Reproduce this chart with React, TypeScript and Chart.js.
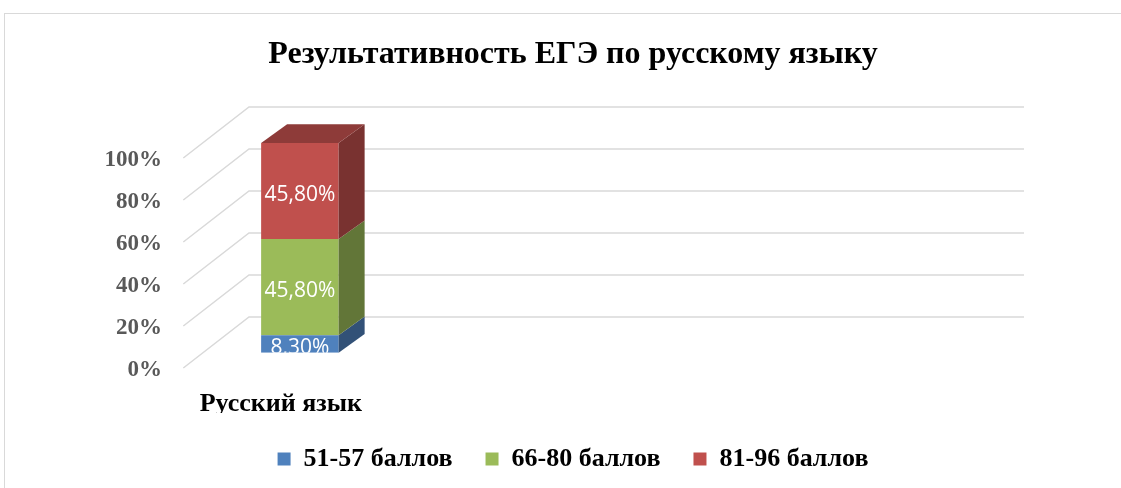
import React, { useEffect, useRef } from 'react';
import { Chart, registerables } from 'chart.js';

Chart.register(...registerables);

const titleText = 'Результативность ЕГЭ по русскому языку';
const categories = ['Русский язык', '', '', ''];
const seriesNames = ['51-57 баллов', '66-80 баллов', '81-96 баллов'];
const series1 = [8.3, null, null, null];
const series2 = [45.8, null, null, null];
const series3 = [45.8, null, null, null];
const yTicks = [0, 20, 40, 60, 80, 100];

const frontColors = ['#4f81bd', '#9bbb59', '#c0504d'];
const sideColors = ['#325177', '#627638', '#793230'];
const topColors = ['#3b6496', '#7a9446', '#8e3b39'];

const SERIF = '"Liberation Serif", "Times New Roman", serif';
const DEPTH_DX = 26;
const DEPTH_DY = -18.7;
const WALL_DX = 46;
const WALL_DY = -35.7;
const FLOOR_DX = -65.7;
const FLOOR_DY = 51;

const fmt = (v: number) => v.toFixed(2).replace('.', ',') + '%';

const threeD = {
  id: 'threeD',
  beforeDatasetsDraw(chart: any) {
    const { ctx, chartArea, scales } = chart;
    const y = scales.y;
    ctx.save();
    ctx.strokeStyle = '#d9d9d9';
    ctx.lineWidth = 1.5;
    yTicks.forEach((v) => {
      const py = y.getPixelForValue(v) + WALL_DY;
      const lx = chartArea.left + WALL_DX;
      const rx = chartArea.right + WALL_DX;
      ctx.beginPath();
      ctx.moveTo(lx + FLOOR_DX, py + FLOOR_DY);
      ctx.lineTo(lx, py);
      ctx.lineTo(rx, py);
      ctx.stroke();
    });
    ctx.restore();
  },
  afterDatasetsDraw(chart: any) {
    const { ctx, chartArea } = chart;
    const datasets = chart.data.datasets;
    ctx.save();
    datasets.forEach((ds: any, di: number) => {
      const meta = chart.getDatasetMeta(di);
      meta.data.forEach((el: any, i: number) => {
        const v = ds.data[i];
        if (v == null) return;
        const { x, y, base, width } = el.getProps(['x', 'y', 'base', 'width'], true);
        const left = x - width / 2;
        const right = x + width / 2;
        ctx.fillStyle = sideColors[di];
        ctx.beginPath();
        ctx.moveTo(right, y);
        ctx.lineTo(right + DEPTH_DX, y + DEPTH_DY);
        ctx.lineTo(right + DEPTH_DX, base + DEPTH_DY);
        ctx.lineTo(right, base);
        ctx.closePath();
        ctx.fill();
        let isTop = true;
        for (let k = di + 1; k < datasets.length; k++) {
          if (datasets[k].data[i] != null) isTop = false;
        }
        if (isTop) {
          ctx.fillStyle = topColors[di];
          ctx.beginPath();
          ctx.moveTo(left, y);
          ctx.lineTo(left + DEPTH_DX, y + DEPTH_DY);
          ctx.lineTo(right + DEPTH_DX, y + DEPTH_DY);
          ctx.lineTo(right, y);
          ctx.closePath();
          ctx.fill();
        }
      });
    });
    ctx.beginPath();
    ctx.rect(chartArea.left, chartArea.top - 40, chartArea.right - chartArea.left, chartArea.bottom - chartArea.top + 40);
    ctx.clip();
    ctx.fillStyle = '#ffffff';
    ctx.font = '21px "Open Sans", sans-serif';
    ctx.textAlign = 'center';
    ctx.textBaseline = 'middle';
    datasets.forEach((ds: any, di: number) => {
      const meta = chart.getDatasetMeta(di);
      meta.data.forEach((el: any, i: number) => {
        const v = ds.data[i];
        if (v == null) return;
        const { x, y, base } = el.getProps(['x', 'y', 'base'], true);
        ctx.fillText(fmt(v), x, (y + base) / 2 + 4);
      });
    });
    ctx.restore();
  },
};

export default function App() {
  const ref = useRef<HTMLCanvasElement>(null);
  useEffect(() => {
    if (!ref.current) return;
    const allSeries = [series1, series2, series3];
    const chart = new Chart(ref.current, {
      type: 'bar',
      data: {
        labels: categories,
        datasets: allSeries.map((s, i) => ({
          label: seriesNames[i],
          data: s,
          backgroundColor: frontColors[i],
          borderWidth: 0,
          barPercentage: 0.4,
          categoryPercentage: 1,
          yAxisID: 'y',
        })),
      },
      options: {
        responsive: false,
        animation: false,
        devicePixelRatio: 1,
        layout: { padding: { left: 90, right: 90, top: 0, bottom: 6 } },
        plugins: {
          title: {
            display: true,
            text: titleText,
            color: '#000000',
            font: { family: SERIF, size: 32, weight: 'bold' },
            padding: { top: 35.5, bottom: 68.8 },
          },
          legend: {
            display: true,
            position: 'bottom',
            labels: {
              boxWidth: 13,
              boxHeight: 13,
              padding: 33,
              color: '#000000',
              font: { family: SERIF, size: 26, weight: 'bold' },
            },
          },
          tooltip: { enabled: false },
        },
        scales: {
          x: {
            stacked: true,
            grid: { display: false, drawTicks: false },
            border: { display: false },
            ticks: {
              color: '#000000',
              font: { family: SERIF, size: 26, weight: 'bold' },
              labelOffset: -19,
              padding: 36,
              maxRotation: 0,
              autoSkip: false,
            },
            afterFit: (scale: any) => {
              scale.height = 60.3;
            },
          },
          y: {
            stacked: true,
            min: 0,
            max: 100,
            position: 'left',
            grid: { display: false, drawTicks: false },
            border: { display: false },
            ticks: {
              stepSize: 20,
              color: '#595959',
              font: { family: SERIF, size: 23, weight: 'bold' },
              labelOffset: 17,
              padding: 41,
              callback: (v: any) => v + '%',
            },
            afterFit: (scale: any) => {
              scale.width = 113;
            },
          },
          yR: {
            type: 'linear',
            position: 'right',
            display: true,
            grid: { display: false, drawTicks: false },
            border: { display: false },
            ticks: { display: false },
            afterFit: (scale: any) => {
              scale.width = 78;
            },
          },
        },
      },
      plugins: [threeD],
    });
    return () => chart.destroy();
  }, []);

  return (
    <div
      style={{
        position: 'fixed',
        left: 0,
        top: 0,
        width: 1121,
        height: 488,
        overflow: 'hidden',
        background: '#ffffff',
      }}
    >
      <div
        style={{
          position: 'absolute',
          left: 4,
          top: 13,
          width: 1136,
          height: 520,
          border: '1px solid #d9d9d9',
          boxSizing: 'border-box',
        }}
      />
      <canvas
        ref={ref}
        width={1146}
        height={488}
        style={{ position: 'absolute', left: 0, top: 0, width: 1146, height: 488 }}
      />
    </div>
  );
}
